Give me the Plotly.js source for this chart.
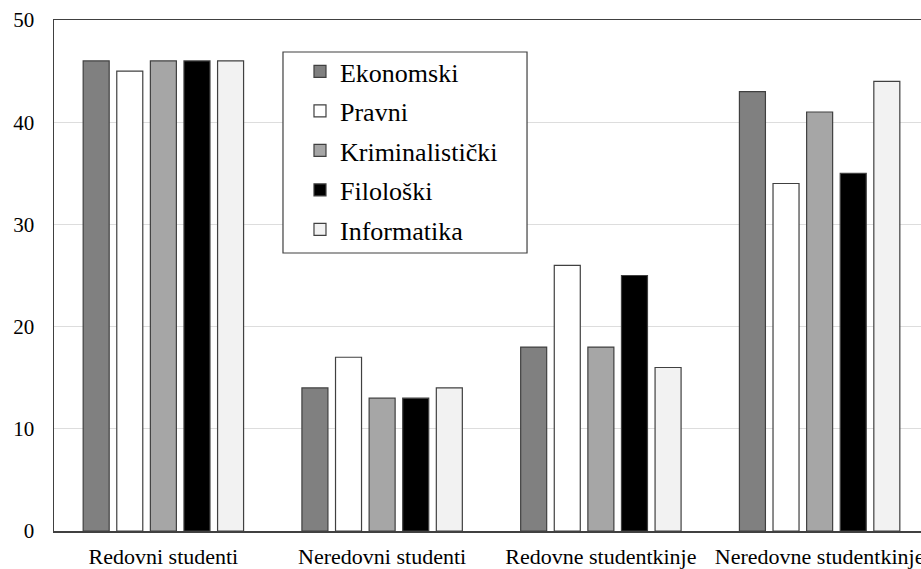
<!DOCTYPE html>
<html>
<head>
<meta charset="utf-8">
<script src="https://cdn.plot.ly/plotly-3.0.1.min.js"></script>
<style>
html,body{margin:0;padding:0;overflow:hidden;background:#fff;width:921px;height:569px;}
#chart{width:935px;height:569px;}
</style>
</head>
<body>
<div id="chart"></div>
<script>
const categories = ["Redovni studenti", "Neredovni studenti", "Redovne studentkinje", "Neredovne studentkinje"];
const seriesNames = ["Ekonomski", "Pravni", "Kriminalistički", "Filološki", "Informatika"];
const ekonomski = [46, 14, 18, 43];
const pravni = [45, 17, 26, 34];
const kriminalisticki = [46, 13, 18, 41];
const filoloski = [46, 13, 25, 35];
const informatika = [46, 14, 16, 44];
const seriesColors = ["#808080", "#ffffff", "#a6a6a6", "#000000", "#f2f2f2"];
const yTicks = [0, 10, 20, 30, 40, 50];

const FONT = "Liberation Serif";
const values = [ekonomski, pravni, kriminalisticki, filoloski, informatika];
const traces = seriesNames.map((name, i) => ({
  type: "bar",
  name: name,
  x: categories,
  y: values[i],
  legendgroup: "g" + i,
  marker: {color: seriesColors[i], line: {color: "#404040", width: 1.2}},
  hoverinfo: "x+y+name"
}));

const layout = {
  width: 935,
  height: 569,
  margin: {l: 54, r: 6, t: 20, b: 38},
  paper_bgcolor: "#ffffff",
  plot_bgcolor: "#ffffff",
  font: {family: FONT, color: "#000000", size: 22},
  barmode: "group",
  bargap: 0.232,
  bargroupgap: 0.226,
  showlegend: true,
  legend: {
    x: 0.2617, y: 0.9452, xanchor: "left", yanchor: "top",
    bgcolor: "rgba(0,0,0,0)", borderwidth: 0,
    font: {size: 26, family: FONT, color: "#000000"},
    traceorder: "grouped", tracegroupgap: 2.7,
    indentation: 17,
    itemwidth: 30
  },
  shapes: [{
    type: "rect", xref: "paper", yref: "paper",
    x0: 0.2617, x1: 0.5406, y0: 0.544, y1: 0.9374,
    fillcolor: "#ffffff", line: {color: "#404040", width: 1.2},
    layer: "above"
  }],
  xaxis: {
    type: "category",
    range: [-0.5, 3.5],
    showline: true, linecolor: "#404040", linewidth: 1.5, mirror: true,
    showgrid: false, zeroline: false,
    ticks: "", ticklabelstandoff: 5,
    tickfont: {size: 22, family: FONT, color: "#000000"}
  },
  yaxis: {
    range: [0, 50],
    tickvals: yTicks,
    ticktext: yTicks.map(String),
    showline: true, linecolor: "#404040", linewidth: 1.5,
    showgrid: true, gridcolor: "#dddddd", gridwidth: 1.3,
    zeroline: false,
    ticks: "", ticklabelstandoff: 14,
    tickfont: {size: 21, family: FONT, color: "#000000"}
  }
};

Plotly.newPlot("chart", traces, layout, {displayModeBar: false, staticPlot: true});
</script>
</body>
</html>
